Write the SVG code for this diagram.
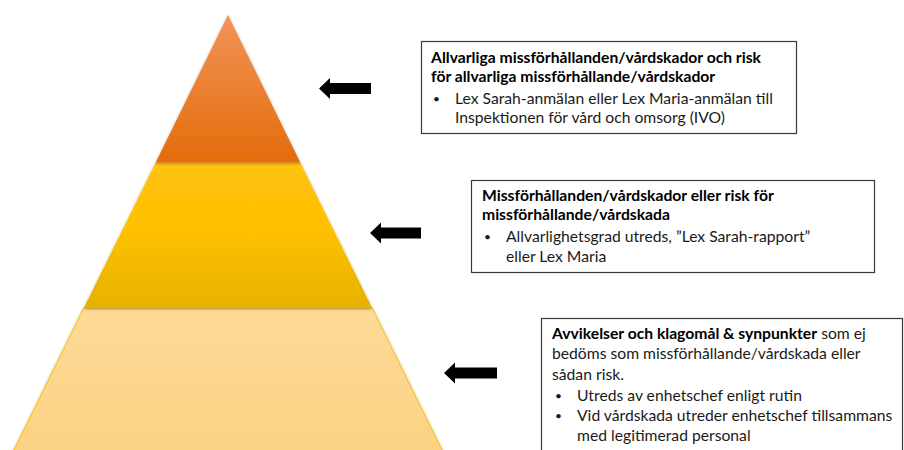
<svg xmlns="http://www.w3.org/2000/svg" width="904" height="450" viewBox="0 0 904 450">
<style>
.box{fill:#fff;stroke:#3a3a3a;stroke-width:1.2}
.t{font-family:Lato,"Liberation Sans",sans-serif;font-size:15.7px;fill:#1a1a1a}
.b{font-weight:bold;fill:#000}
.bul{font-size:12px}
.arrow{fill:#000}
</style>
<defs>
<linearGradient id="gTop" x1="0" y1="0" x2="0" y2="1">
<stop offset="0" stop-color="#F29459"/>
<stop offset="1" stop-color="#E36C0A"/>
</linearGradient>
<linearGradient id="gMid" x1="0" y1="0" x2="0" y2="1">
<stop offset="0" stop-color="#FFC20E"/>
<stop offset="0.45" stop-color="#FFC000"/>
<stop offset="1" stop-color="#E6B200"/>
</linearGradient>
<linearGradient id="gBot" x1="0" y1="0" x2="0" y2="1">
<stop offset="0" stop-color="#FDDA98"/>
<stop offset="1" stop-color="#FCD283"/>
</linearGradient>
<filter id="sh" x="-10%" y="-10%" width="120%" height="120%">
<feGaussianBlur in="SourceAlpha" stdDeviation="1.5"/>
<feOffset dx="0" dy="1" result="o"/>
<feComponentTransfer><feFuncA type="linear" slope="0.35"/></feComponentTransfer>
<feMerge><feMergeNode/><feMergeNode in="SourceGraphic"/></feMerge>
</filter>
</defs>
<rect width="904" height="450" fill="#fff"/>
<g id="pyramid-bottom" filter="url(#sh)">
<polygon points="83.8,308 372.2,308 443.5,453 12.5,453" fill="url(#gBot)" stroke="#FFC000" stroke-width="1"/>
</g>
<g id="pyramid-middle" filter="url(#sh)">
<polygon points="155.7,162.5 300.3,162.5 372.2,308 83.8,308" fill="url(#gMid)"/>
</g>
<g id="pyramid-top" filter="url(#sh)">
<polygon points="228,15 300.3,162.5 155.7,162.5" fill="url(#gTop)"/>
</g>
<g id="connectors">
<polygon class="arrow" points="319,88.5 330,78 330,83 371,83 371,94 330,94 330,99"/>
<polygon class="arrow" points="370,233 381,222.5 381,227.5 421,227.5 421,238.5 381,238.5 381,243.5"/>
<polygon class="arrow" points="444,373 455,362.5 455,367.5 497,367.5 497,378.5 455,378.5 455,383.5"/>
</g>
<g id="box1">
<rect class="box" x="421.5" y="41.5" width="375" height="92"/>
<text class="t b" x="431" y="63">Allvarliga missförhållanden/vårdskador och risk</text>
<text class="t b" x="431" y="82">för allvarliga missförhållande/vårdskador</text>
<text class="t bul" x="433" y="103">•</text>
<text class="t" x="455" y="104">Lex Sarah-anmälan eller Lex Maria-anmälan till</text>
<text class="t" x="455" y="123">Inspektionen för vård och omsorg (IVO)</text>
</g>
<g id="box2">
<rect class="box" x="471.5" y="180.5" width="403" height="92"/>
<text class="t b" x="482" y="201">Missförhållanden/vårdskador eller risk för</text>
<text class="t b" x="482" y="220">missförhållande/vårdskada</text>
<text class="t bul" x="484" y="241">•</text>
<text class="t" x="506" y="242">Allvarlighetsgrad utreds, ”Lex Sarah-rapport”</text>
<text class="t" x="506" y="262">eller Lex Maria</text>
</g>
<g id="box3">
<rect class="box" x="541.5" y="318.5" width="361" height="140"/>
<text class="t" x="552" y="339"><tspan class="b">Avvikelser och klagomål &amp; synpunkter</tspan> som ej</text>
<text class="t" x="552" y="359">bedöms som missförhållande/vårdskada eller</text>
<text class="t" x="552" y="380">sådan risk.</text>
<text class="t bul" x="555" y="400">•</text>
<text class="t" x="577" y="401">Utreds av enhetschef enligt rutin</text>
<text class="t bul" x="555" y="420">•</text>
<text class="t" x="577" y="421">Vid vårdskada utreder enhetschef tillsammans</text>
<text class="t" x="577" y="441">med legitimerad personal</text>
</g>
</svg>
